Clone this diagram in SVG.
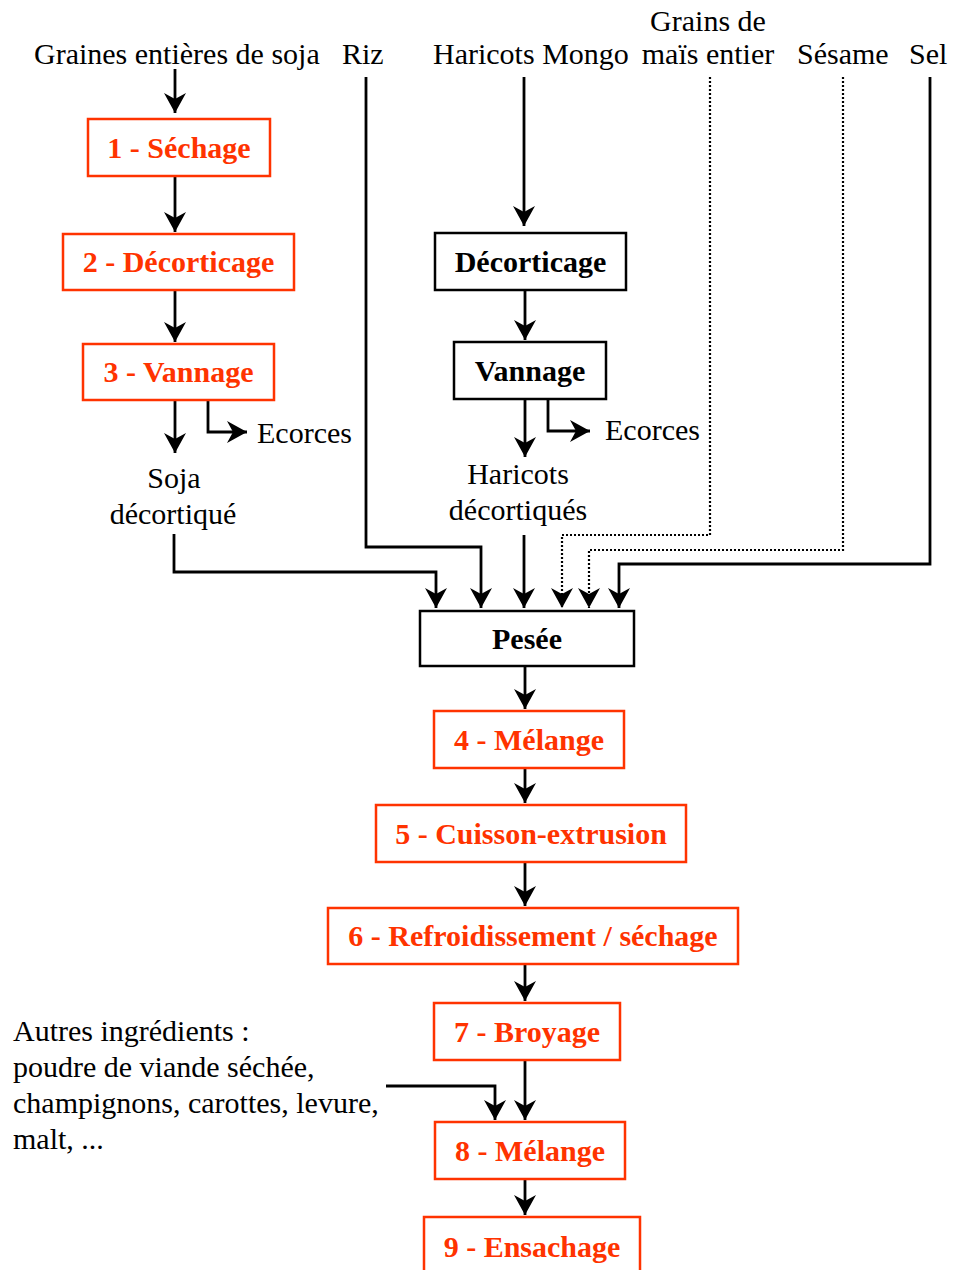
<svg xmlns="http://www.w3.org/2000/svg" width="954" height="1270" viewBox="0 0 954 1270">
<defs>
<marker id="ah" markerUnits="userSpaceOnUse" markerWidth="26" markerHeight="26" viewBox="-22 -13 24 26" refX="0" refY="0" orient="auto">
<path d="M0,0 L-20,-11 L-14,0 L-20,11 Z" fill="#000"/>
</marker>
<style>
.t{font-family:"Liberation Serif","Times New Roman",serif;font-size:30px;fill:#000}
.b{font-family:"Liberation Serif","Times New Roman",serif;font-size:30px;font-weight:bold;text-anchor:middle}
.r{fill:#fff;stroke:#FF3300;stroke-width:2.5}
.rt{fill:#FF3300}
.k{fill:#fff;stroke:#000;stroke-width:2.5}
.kt{fill:#000}
.c{fill:none;stroke:#000;stroke-width:2.8;marker-end:url(#ah)}
.d{fill:none;stroke:#000;stroke-width:2.2;stroke-dasharray:2 2;marker-end:url(#ah)}
.m{text-anchor:middle}
</style>
</defs>
<rect width="954" height="1270" fill="#fff"/>
<g id="labels">
<text class="t" x="34" y="64">Graines entières de soja</text>
<text class="t" x="342" y="64">Riz</text>
<text class="t" x="433" y="64">Haricots Mongo</text>
<text class="t m" x="708" y="31">Grains de</text>
<text class="t m" x="708" y="64">maïs entier</text>
<text class="t" x="797" y="64">Sésame</text>
<text class="t" x="909" y="64">Sel</text>
<text class="t" x="257" y="443">Ecorces</text>
<text class="t" x="605" y="440">Ecorces</text>
<text class="t m" x="174" y="488">Soja</text>
<text class="t m" x="173" y="524">décortiqué</text>
<text class="t m" x="518" y="484">Haricots</text>
<text class="t m" x="518" y="520">décortiqués</text>
<text class="t" x="13" y="1041">Autres ingrédients :</text>
<text class="t" x="13" y="1077">poudre de viande séchée,</text>
<text class="t" x="13" y="1113">champignons, carottes, levure,</text>
<text class="t" x="13" y="1149">malt, ...</text>
</g>
<g id="connectors">
<path class="c" d="M175,69 V113"/>
<path class="c" d="M175,176 V232"/>
<path class="c" d="M175,290 V342"/>
<path class="c" d="M175,400 V453"/>
<path class="c" d="M208,400 V432 H247"/>
<path class="c" d="M174,534 V572 H436 V608"/>
<path class="c" d="M366,77 V547 H481 V608"/>
<path class="c" d="M524,77 V226"/>
<path class="c" d="M525,290 V340"/>
<path class="c" d="M525,399 V457"/>
<path class="c" d="M548,399 V431 H590"/>
<path class="c" d="M524,535 V608"/>
<path class="d" d="M710,77 V535 H562 V608"/>
<path class="d" d="M843,77 V550 H589 V608"/>
<path class="c" d="M930,77 V564 H619 V608"/>
<path class="c" d="M525,666 V709"/>
<path class="c" d="M525,768 V803"/>
<path class="c" d="M525,862 V906"/>
<path class="c" d="M525,964 V1001"/>
<path class="c" d="M525,1060 V1120"/>
<path class="c" d="M386,1086 H495 V1120"/>
<path class="c" d="M525,1179 V1215"/>
</g>
<g id="n1"><rect class="r" x="88" y="119" width="182" height="57"/><text class="b rt" x="179" y="158">1 - Séchage</text></g>
<g id="n2"><rect class="r" x="63" y="234" width="231" height="56"/><text class="b rt" x="178.5" y="272">2 - Décorticage</text></g>
<g id="n3"><rect class="r" x="83" y="344" width="191" height="56"/><text class="b rt" x="178.5" y="382">3 - Vannage</text></g>
<g id="hdec"><rect class="k" x="435" y="233" width="191" height="57"/><text class="b kt" x="530.5" y="272">Décorticage</text></g>
<g id="hvan"><rect class="k" x="454" y="342" width="152" height="57"/><text class="b kt" x="530" y="381">Vannage</text></g>
<g id="pesee"><rect class="k" x="420" y="611" width="214" height="55"/><text class="b kt" x="527" y="649">Pesée</text></g>
<g id="n4"><rect class="r" x="434" y="711" width="190" height="57"/><text class="b rt" x="529" y="750">4 - Mélange</text></g>
<g id="n5"><rect class="r" x="376" y="805" width="310" height="57"/><text class="b rt" x="531" y="844">5 - Cuisson-extrusion</text></g>
<g id="n6"><rect class="r" x="328" y="908" width="410" height="56"/><text class="b rt" x="533" y="946">6 - Refroidissement / séchage</text></g>
<g id="n7"><rect class="r" x="434" y="1003" width="186" height="57"/><text class="b rt" x="527" y="1042">7 - Broyage</text></g>
<g id="n8"><rect class="r" x="435" y="1122" width="190" height="57"/><text class="b rt" x="530" y="1161">8 - Mélange</text></g>
<g id="n9"><rect class="r" x="424" y="1217" width="216" height="62"/><text class="b rt" x="532" y="1257">9 - Ensachage</text></g>
</svg>
